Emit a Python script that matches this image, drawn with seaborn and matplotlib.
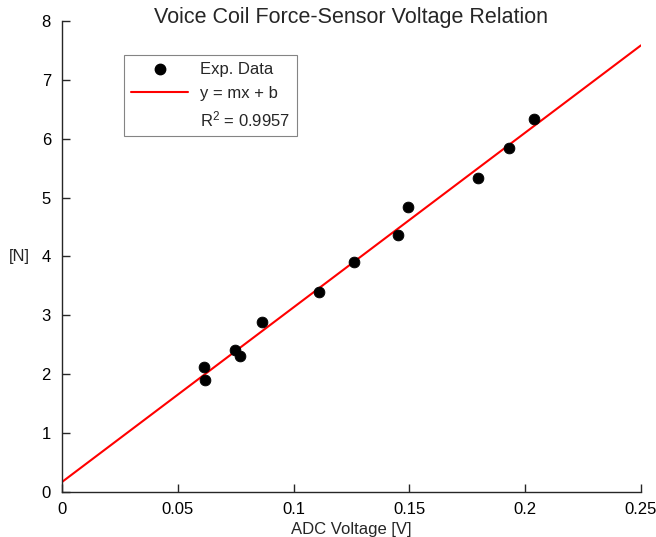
import numpy as np
import pandas as pd
import matplotlib
matplotlib.use('Agg')
import matplotlib.pyplot as plt
import seaborn as sns
from matplotlib.lines import Line2D

adc_v = [0.0615, 0.0617, 0.0745, 0.0768, 0.0862, 0.1112, 0.1260, 0.1452, 0.1495, 0.1795, 0.1930, 0.2040]
force = [2.13, 1.91, 2.42, 2.31, 2.89, 3.39, 3.90, 4.37, 4.84, 5.34, 5.84, 6.34]

# fit line y = m x + b
m_fit = 29.66
b_fit = 0.17
fit_x = [0.0, 0.25]
r2 = 0.9957

sns.set_style('white')
plt.rcParams['font.family'] = ['Liberation Sans', 'DejaVu Sans']

d = pd.DataFrame({'x': adc_v, 'y': force})
fit = pd.DataFrame({'x': fit_x})
fit['y'] = m_fit * fit['x'] + b_fit

fig = plt.figure(figsize=(6.56, 5.37), dpi=100)
ax = fig.add_axes([0.0945, 0.0838, 0.8825, 0.8772])

sns.lineplot(data=fit, x='x', y='y', color='red', lw=1.5, ax=ax)
sns.scatterplot(data=d, x='x', y='y', color='black', s=60, edgecolor='black', zorder=3, ax=ax)

ax.set_xlim(0, 0.25)
ax.set_ylim(0, 8)
ax.set_xticks([0, 0.05, 0.1, 0.15, 0.2, 0.25])
ax.set_xticklabels(['0', '0.05', '0.1', '0.15', '0.2', '0.25'])
ax.set_yticks(range(0, 9))
ax.tick_params(direction='in', length=6, width=1, labelsize=12, colors='#262626',
               bottom=True, left=True, labelcolor='black')
ax.tick_params(axis='x', pad=7)
ax.tick_params(axis='y', pad=8)
for s in ['top', 'right']:
    ax.spines[s].set_visible(False)
for s in ['left', 'bottom']:
    ax.spines[s].set_color('#262626')
    ax.spines[s].set_linewidth(1)

ax.set_xlabel('ADC Voltage [V]', fontsize=12, labelpad=4)
ax.set_ylabel('[N]', fontsize=12, rotation=0, labelpad=16, va='center')
# title sits low, overlapping the top of the axes area like the original
fig.text(351 / 656, 1 - 18 / 537, 'Voice Coil Force-Sensor Voltage Relation',
         fontsize=15.5, ha='center', va='center')

handles = [Line2D([], [], marker='o', ls='', color='black', markersize=7.5),
           Line2D([], [], color='red', lw=1.5),
           Line2D([], [], ls='', marker='')]
labels = ['Exp. Data', 'y = mx + b', '$\\mathregular{R^2}$ = %.4f' % r2]
leg = ax.legend(handles, labels, loc='upper left', bbox_to_anchor=(0.107, 0.928),
                fontsize=12, frameon=True, fancybox=False, edgecolor='#666666',
                handlelength=3.4, borderpad=0.45, labelspacing=0.5, handletextpad=0.7,
                borderaxespad=0)
leg.get_frame().set_linewidth(0.8)

fig.savefig('out.png', dpi=100)
